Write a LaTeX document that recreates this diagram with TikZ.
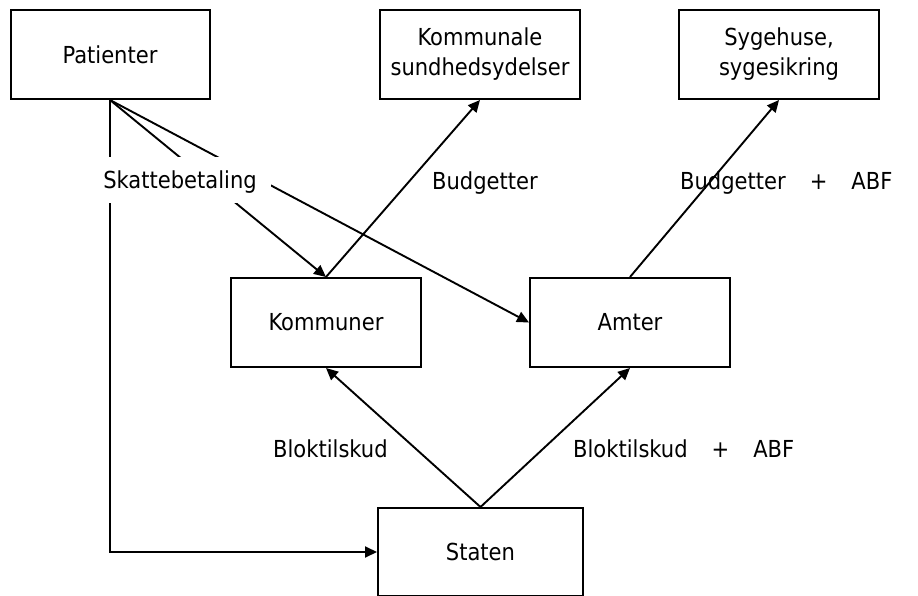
\documentclass[tikz,border=0pt]{standalone}
\usepackage{fontspec}
\setmainfont{DejaVu Sans Condensed}
\usetikzlibrary{arrows.meta}
\tikzset{
  box/.style={draw, line width=2pt, align=center, inner sep=0pt,
    minimum height=89pt, font=\fontsize{23.4}{30}\selectfont},
  lbl/.style={anchor=base, inner sep=0pt, font=\fontsize{23.4}{30}\selectfont},
  conn/.style={line width=1.9pt},
  arr/.style={conn, -{Triangle[length=12pt,width=11pt]}},
}
\newcommand{\plusgap}{\hspace{24pt}+\hspace{24pt}}
\begin{document}
\begin{tikzpicture}[x=1pt,y=-1pt]
\useasboundingbox[fill=white] (0,0) rectangle (918,596);
\node[box, minimum width=199pt] (P) at (110,54.5) {Patienter};
\node[box, minimum width=200pt] (KS) at (480,54.5) {Kommunale\\sundhedsydelser};
\node[box, minimum width=200pt] (SY) at (779,54.5) {Sygehuse,\\sygesikring};
\node[box, minimum width=190pt] (K) at (326,322.5) {Kommuner};
\node[box, minimum width=200pt] (A) at (630,322.5) {Amter};
\node[box, minimum width=205pt, minimum height=88pt] (S) at (480.5,552) {Staten};

\draw[arr] (P.south) |- (S.west);
\draw[arr] (P.south) -- (K.north);
\draw[arr] (P.south) -- (A.west);
\draw[arr] (K.north) -- (KS.south);
\draw[arr] (A.north) -- (SY.south);
\draw[arr] (S.north) -- (K.south);
\draw[arr] (S.north) -- (A.south);

\node[fill=white, inner sep=0pt, minimum width=182pt, minimum height=46pt] (skb) at (180,180) {};
\node[lbl] (sk) at (180,189) {Skattebetaling};
\node[lbl, anchor=base west] (bu) at (432,190) {Budgetter};
\node[lbl, anchor=base west] (bua) at (680,190) {Budgetter\plusgap ABF};
\node[lbl, anchor=base west] (bl) at (273,457) {Bloktilskud};
\node[lbl, anchor=base west] (bla) at (573,457) {Bloktilskud\plusgap ABF};
\end{tikzpicture}
\end{document}
